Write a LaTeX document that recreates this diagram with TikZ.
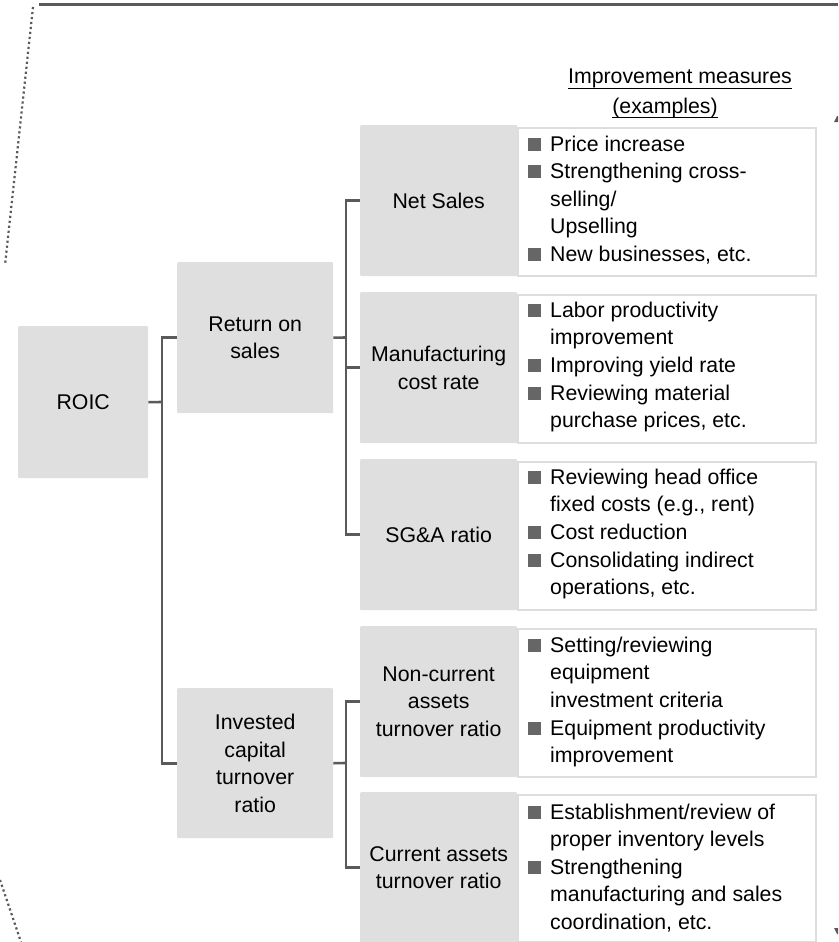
\documentclass[tikz,border=0pt]{standalone}
\usepackage{fontspec}
\setmainfont{Liberation Sans}
\usepackage{xcolor}
\definecolor{boxgray}{HTML}{DFDFDF}
\definecolor{linegray}{HTML}{5A5A5A}
\definecolor{bulgray}{HTML}{666666}
\definecolor{bordergray}{HTML}{DDDDDD}
\newcommand{\bul}{\makebox[22pt][l]{\textcolor{bulgray}{\rule[0.5pt]{13pt}{13pt}}}}
\newcommand{\ind}{\hspace*{22pt}}
\newcommand{\myul}[1]{\setbox0\hbox{#1}\rlap{\rule[-5pt]{\wd0}{1.4pt}}\box0}
\begin{document}
\begin{tikzpicture}[x=1pt,y=-1pt,
  txt/.style={font=\fontsize{21.3}{27.6}\selectfont},
  graybox/.style={txt,fill=boxgray,draw=none,rounded corners=1pt,align=center,inner sep=0pt,anchor=north west},
  whitebox/.style={fill=white,draw=bordergray,line width=1.5pt,anchor=north west,inner sep=0pt},
  meas/.style={txt,anchor=west,align=left,inner sep=0pt},
  conn/.style={draw=linegray,line width=2.6pt},
  frame/.style={draw=linegray,line width=2.8pt},
  dotline/.style={draw=linegray,line width=2.2pt,dash pattern=on 2.2pt off 2.8pt}]
\useasboundingbox (0,0) rectangle (838,942);

% frame
\draw[frame] (39,4.5) -- (838,4.5);
\draw[dotline] (33,7) -- (5,265);
\draw[dotline] (0,880) -- (21,942);
\fill[linegray] (834,122) -- (837,116) -- (838,116) -- (838,122) -- cycle;
\fill[linegray] (834,928) -- (838,928) -- (838,934) -- (837,934) -- cycle;

% heading
\node[txt,anchor=base,inner sep=0pt] (h1) at (680,84) {\myul{Improvement measures}};
\node[txt,anchor=base,inner sep=0pt] (h2) at (665,113) {\myul{(examples)}};

% level 1 and 2
\node[graybox,minimum width=130pt,minimum height=152pt] (roic) at (18,326) {ROIC};
\node[graybox,minimum width=156pt,minimum height=151pt] (ros) at (177,262) {Return on\\sales};
\node[graybox,minimum width=156pt,minimum height=150pt] (icr) at (177,688) {Invested\\capital\\turnover\\ratio};

% level 3
\node[graybox,minimum width=157pt,minimum height=151pt] (ns) at (360,125) {Net Sales};
\node[graybox,minimum width=157pt,minimum height=151pt] (mcr) at (360,292) {Manufacturing\\cost rate};
\node[graybox,minimum width=157pt,minimum height=151pt] (sga) at (360,459) {SG\&A ratio};
\node[graybox,minimum width=157pt,minimum height=151pt] (nca) at (360,626) {Non-current\\assets\\turnover ratio};
\node[graybox,minimum width=157pt,minimum height=151pt] (ca) at (360,792) {Current assets\\turnover ratio};

% white measure boxes
\node[whitebox,minimum width=298pt,minimum height=148pt] (wns) at (517,127) {};
\node[whitebox,minimum width=298pt,minimum height=148pt] (wmcr) at (517,294) {};
\node[whitebox,minimum width=298pt,minimum height=148pt] (wsga) at (517,461) {};
\node[whitebox,minimum width=298pt,minimum height=148pt] (wnca) at (517,628) {};
\node[whitebox,minimum width=298pt,minimum height=147pt] (wca) at (517,794) {};

% measure texts
\node[meas] (tns) at (528,200) {\bul Price increase\\\bul Strengthening cross-\\\ind selling/\\\ind Upselling\\\bul New businesses, etc.};
\node[meas] (tmcr) at (528,367) {\bul Labor productivity\\\ind improvement\\\bul Improving yield rate\\\bul Reviewing material\\\ind purchase prices, etc.};
\node[meas] (tsga) at (528,534) {\bul Reviewing head office\\\ind fixed costs (e.g., rent)\\\bul Cost reduction\\\bul Consolidating indirect\\\ind operations, etc.};
\node[meas] (tnca) at (528,702) {\bul Setting/reviewing\\\ind equipment\\\ind investment criteria\\\bul Equipment productivity\\\ind improvement};
\node[meas] (tca) at (528,868) {\bul Establishment/review of\\\ind proper inventory levels\\\bul Strengthening\\\ind manufacturing and sales\\\ind coordination, etc.};

% connectors
\coordinate (j1) at (162,402);
\coordinate (j2) at (346,337.5);
\coordinate (j3) at (346,763);
\draw[conn] (roic.east) -- (j1);
\draw[conn] (j1) |- (ros.west);
\draw[conn] (j1) |- (icr.west);
\draw[conn] (ros.east) -- (j2);
\draw[conn] (j2) |- (ns.west);
\draw[conn] (j2) |- (mcr.west);
\draw[conn] (j2) |- (sga.west);
\draw[conn] (icr.east) -- (j3);
\draw[conn] (j3) |- (nca.west);
\draw[conn] (j3) |- (ca.west);
\end{tikzpicture}
\end{document}
